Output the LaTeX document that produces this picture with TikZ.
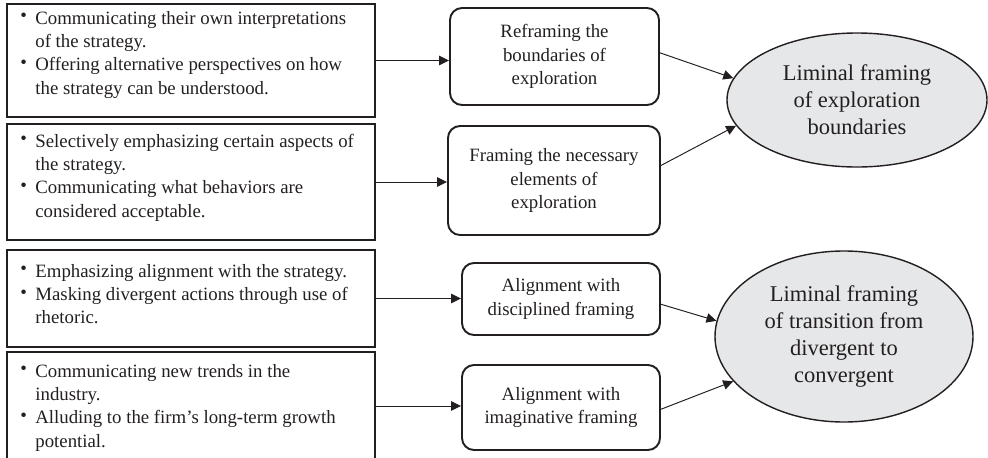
\documentclass[tikz,border=0pt]{standalone}
\usepackage{fontspec}
\setmainfont{Liberation Serif}
\usetikzlibrary{shapes.geometric}
\usetikzlibrary{positioning}
\usetikzlibrary{arrows.meta}

\definecolor{inkgray}{HTML}{231F20}
\definecolor{ellipsegray}{HTML}{E6E7E8}

\newcommand{\bitem}{\makebox[0.3cm][l]{\raisebox{0.25ex}{\textbullet}}}

\begin{document}
\begin{tikzpicture}
		[
			leftbox/.style = {rectangle, draw = inkgray, line width = 1.1pt, minimum width = 7.36cm, inner sep = 0cm},
			bullets/.style = {inner sep = 0cm, anchor = base west, xshift = 0.28cm, text = inkgray, font = \fontsize{10.7}{13.3}\selectfont},
			midbox/.style = {rectangle, rounded corners = 0.24cm, draw = inkgray, line width = 1.1pt, inner sep = 0cm, align = center, text = inkgray, font = \fontsize{10.7}{13.2}\selectfont},
			liminal/.style = {ellipse, draw = inkgray, fill = ellipsegray, line width = 0.8pt, inner sep = 0cm, align = center, text = inkgray, font = \fontsize{12.8}{15.4}\selectfont},
			link/.style = {draw = inkgray, line width = 0.55pt, -{Triangle[length = 0.2cm, width = 0.19cm]}},
		]
			%
			\useasboundingbox (0,0) rectangle (19.76,-9.14);
			%
			\node (lbox1) [leftbox, minimum height = 2.26cm] at (3.82,-1.21) {};
			\node (lbox2) [leftbox, minimum height = 2.32cm] at (3.82,-3.64) {};
			\node (lbox3) [leftbox, minimum height = 1.94cm] at (3.82,-5.97) {};
			\node (lbox4) [leftbox, minimum height = 2.16cm] at (3.82,-8.12) {};
			%
			\node (ltext1) [bullets, yshift = -0.42cm] at (lbox1.north west) {\begin{tabular}[t]{@{}l@{}l@{}}
				\bitem & Communicating their own interpretations\\
				& of the strategy.\\
				\bitem & Offering alternative perspectives on how\\
				& the strategy can be understood.
			\end{tabular}};
			\node (ltext2) [bullets, yshift = -0.48cm] at (lbox2.north west) {\begin{tabular}[t]{@{}l@{}l@{}}
				\bitem & Selectively emphasizing certain aspects of\\
				& the strategy.\\
				\bitem & Communicating what behaviors are\\
				& considered acceptable.
			\end{tabular}};
			\node (ltext3) [bullets, yshift = -0.56cm] at (lbox3.north west) {\begin{tabular}[t]{@{}l@{}l@{}}
				\bitem & Emphasizing alignment with the strategy.\\
				\bitem & Masking divergent actions through use of\\
				& rhetoric.
			\end{tabular}};
			\node (ltext4) [bullets, yshift = -0.52cm] at (lbox4.north west) {\begin{tabular}[t]{@{}l@{}l@{}}
				\bitem & Communicating new trends in the\\
				& industry.\\
				\bitem & Alluding to the firm’s long-term growth\\
				& potential.
			\end{tabular}};
			%
			\node (mbox1) [midbox, minimum width = 4.18cm, minimum height = 1.94cm] at (11.09,-1.13) {Reframing the\\boundaries of\\exploration};
			\node (mbox2) [midbox, minimum width = 4.24cm, minimum height = 2.18cm] at (11.08,-3.61) {Framing the necessary\\elements of\\exploration};
			\node (mbox3) [midbox, minimum width = 3.96cm, minimum height = 1.44cm] at (11.22,-5.98) {Alignment with\\disciplined framing};
			\node (mbox4) [midbox, minimum width = 3.96cm, minimum height = 1.70cm] at (11.22,-8.15) {Alignment with\\imaginative framing};
			%
			\node (boundaries) [liminal, minimum width = 5.20cm, minimum height = 2.68cm] at (17.14,-2.00) {Liminal framing\\of exploration\\boundaries};
			\node (transition) [liminal, minimum width = 5.16cm, minimum height = 3.42cm] at (16.88,-6.73) {Liminal framing\\of transition from\\divergent to\\convergent};
			%
			\foreach \i in {1,...,4}
				\draw [link] (lbox\i.east) -- (lbox\i.east -| mbox\i.west);
			%
			\draw [link] (mbox1.2) -- (boundaries.170);
			\draw [link] (mbox2.8) -- (boundaries.192);
			\draw [link] (mbox3.357) -- (transition.173);
			\draw [link] (mbox4.359) -- (transition.202);
			%
		\end{tikzpicture}
\end{document}
